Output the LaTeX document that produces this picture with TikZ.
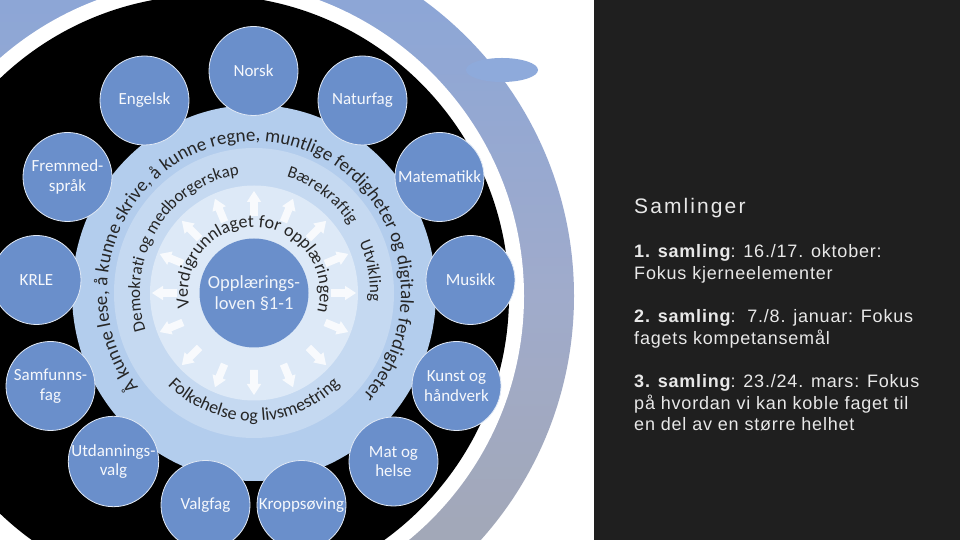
\documentclass[tikz,border=0pt]{standalone}
\usepackage{fontspec}
\usetikzlibrary{decorations.text,calc}
\newfontfamily\cfont{Carlito}
\newfontfamily\pfont[LetterSpace=4.5]{Liberation Sans}
\newfontfamily\tfont[LetterSpace=10]{Liberation Sans}
\definecolor{brushtop}{HTML}{88A5D9}
\definecolor{brushmid}{HTML}{A0ABCB}
\definecolor{brushbot}{HTML}{A3A6AE}
\definecolor{outerring}{HTML}{B3CDED}
\definecolor{midring}{HTML}{C5D9F1}
\definecolor{innerring}{HTML}{DDE9F7}
\definecolor{satblue}{HTML}{6A8FCB}
\definecolor{ringtxt}{HTML}{262626}
\definecolor{panel}{HTML}{1F1F1F}
\definecolor{paneltxt}{HTML}{E8E8E8}
\begin{document}
\begin{tikzpicture}[x=1pt,y=1pt,
  sat/.style={circle, fill=satblue, draw=white!80!satblue, line width=0.8pt,
    minimum size=89pt, inner sep=0pt, align=center, text=white!94!satblue,
    font=\cfont\fontsize{17}{19.5}\selectfont},
  plain/.style={anchor=base west, inner sep=0pt, text=paneltxt,
    font=\pfont\fontsize{18}{22}\selectfont},
  titletext/.style={anchor=base west, inner sep=0pt, text=paneltxt,
    font=\tfont\fontsize{21}{25}\selectfont}
]
\useasboundingbox (0,0) rectangle (960,540);
\fill[white] (0,0) rectangle (960,540);

% backdrop: brush ring, white ring, black disk
\coordinate (B) at (208,244);
\begin{scope}
  \clip (B) -- ++(-100:440) arc[start angle=-100, end angle=215, radius=440] -- cycle;
  \shade[top color=brushtop, bottom color=brushbot, middle color=brushmid] (B) circle (366);
\end{scope}
\fill[brushtop!95!white] (502,470) ellipse[x radius=36, y radius=12];
\fill[white] (B) circle (316);
\fill[black] (B) circle (301);

% concentric rings
\coordinate (D) at (254,247);
\fill[outerring] (D) ellipse[x radius=182, y radius=188];
\fill[midring] (D) ellipse[x radius=140, y radius=145];
\fill[innerring] (D) ellipse[x radius=104, y radius=107.5];

% radial arrows
\foreach \a in {0,22.5,...,337.5}{
  \fill[white, opacity=0.8, shift={(D)}, rotate=\a]
    (77,-3.8) -- (91,-3.8) -- (91,-7.2) -- (102,0) -- (91,7.2) -- (91,3.8) -- (77,3.8) -- cycle;
}

% centre
\node[circle, fill=satblue, minimum size=109pt, inner sep=0pt, align=center,
  text=white!90!satblue, font=\cfont\fontsize{18.5}{20.5}\selectfont] (core) at (D)
  {Opplærings-\\loven §1-1};

% ring texts
\path[decorate, decoration={text along path, text align=center,
  text={|\cfont\fontsize{19}{19}\selectfont\color{ringtxt}|Å kunne lese, å kunne skrive, å kunne regne, muntlige ferdigheter og digitale ferdigheter}}]
  ($(D)+(228:147 and 152)$) arc[start angle=228, end angle=-52, x radius=147, y radius=152];

\path[decorate, decoration={text along path, text align=center,
  text={|\cfont\fontsize{17}{17}\selectfont\color{ringtxt}|Demokrati og medborgerskap}}]
  ($(D)+(212:114 and 119)$) arc[start angle=212, end angle=83, x radius=114, y radius=119];

\path[decorate, decoration={text along path, text align=center,
  text={|\cfont\fontsize{17}{17}\selectfont\color{ringtxt}|Bærekraftig}}]
  ($(D)+(80:116 and 121)$) arc[start angle=80, end angle=28, x radius=116, y radius=121];

\path[decorate, decoration={text along path, text align=center,
  text={|\cfont\fontsize{17}{17}\selectfont\color{ringtxt}|Utvikling}}]
  ($(D)+(32:116 and 121)$) arc[start angle=32, end angle=-11, x radius=116, y radius=121];

\path[decorate, decoration={text along path, text align=center,
  text={|\cfont\fontsize{18}{18}\selectfont\color{ringtxt}|Folkehelse og livsmestring}}]
  ($(D)+(205:124 and 128)$) arc[start angle=205, end angle=335, x radius=124, y radius=128];

\path[decorate, decoration={text along path, text align=center,
  text={|\cfont\fontsize{18}{18}\selectfont\color{ringtxt}|Verdigrunnlaget for opplæringen}}]
  ($(D)+(218:66)$) arc[start angle=218, end angle=-42, radius=66];

% subjects
\node[sat] (norsk) at (253.5,469) {Norsk};
\node[sat] (naturfag) at (362.5,439.5) {Naturfag};
\node[sat] (engelsk) at (144.5,439.5) {Engelsk};
\node[sat] (matte) at (439.5,363) {Matematikk};
\node[sat] (fremmed) at (67.5,363) {Fremmed-\\språk};
\node[sat] (musikk) at (470.5,260) {Musikk};
\node[sat] (krle) at (36.5,260) {KRLE};
\node[sat] (kunst) at (456.5,154) {Kunst og\\håndverk};
\node[sat] (samf) at (50.5,154) {Samfunns-\\fag};
\node[sat] (mat) at (393.5,78.5) {Mat og\\helse};
\node[sat] (utd) at (113.5,78.5) {Utdannings-\\valg};
\node[sat] (kropp) at (301.5,35) {Kroppsøving};
\node[sat] (valg) at (205.5,35) {Valgfag};

% right panel
\fill[panel] (594,0) rectangle (960,540);
\node[titletext] (title) at (634,326) {Samlinger};
\node[plain] (l1) at (634,282) {{\bfseries 1. samling}: 16./17. oktober:};
\node[plain] (l2) at (634,260) {Fokus kjerneelementer};
\node[plain] (l3) at (634,217) {{\bfseries 2. samling}:\ \ 7./8. januar: Fokus};
\node[plain] (l4) at (634,195) {fagets kompetansemål};
\node[plain] (l5) at (634,152) {{\bfseries 3. samling}: 23./24. mars: Fokus};
\node[plain] (l6) at (634,130) {på hvordan vi kan koble faget til};
\node[plain] (l7) at (634,109) {en del av en større helhet};
\end{tikzpicture}
\end{document}
